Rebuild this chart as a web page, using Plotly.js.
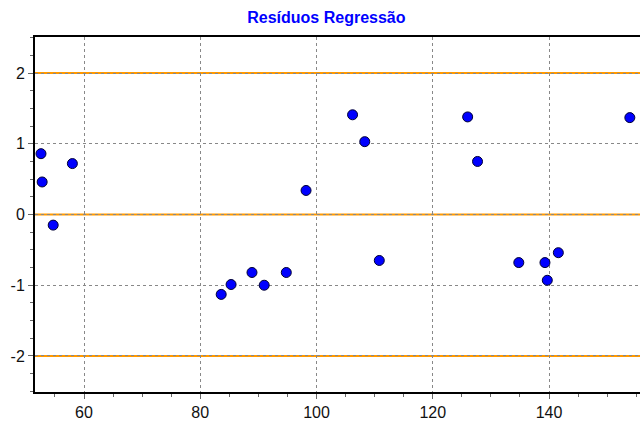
<!DOCTYPE html>
<html><head><meta charset="utf-8">
<script src="https://cdn.plot.ly/plotly-3.0.1.min.js"></script>
<style>html,body{margin:0;padding:0;background:#fff}#chart{width:640px;height:425px}</style>
</head><body><div id="chart"></div>
<script>
const xValues = [52.6, 52.8, 54.7, 58.0, 83.6, 85.3, 88.9, 91.0, 94.8, 98.2, 106.2, 108.3, 110.8, 126.0, 127.7, 134.8, 139.3, 139.7, 141.6, 153.9];
const residuals = [0.86, 0.46, -0.15, 0.72, -1.13, -0.99, -0.82, -1.00, -0.82, 0.34, 1.41, 1.03, -0.65, 1.38, 0.75, -0.68, -0.68, -0.93, -0.54, 1.37];
const refLevels = [2, 0, -2];
const xTicks = [60, 80, 100, 120, 140];
const yTicks = [-2, -1, 0, 1, 2];

const shapes = refLevels.map(v => ({
  type: 'line', xref: 'paper', x0: 0, x1: 1, yref: 'y', y0: v, y1: v,
  line: {color: '#FF9900', width: 2}, layer: 'between'
}));

const trace = {
  x: xValues, y: residuals, type: 'scatter', mode: 'markers',
  marker: {symbol: 'circle', size: 10, color: '#0000FF', line: {color: '#000033', width: 1}},
  hoverinfo: 'none', showlegend: false
};

const layout = {
  width: 640, height: 425,
  margin: {l: 35, r: 0, t: 37, b: 33},
  paper_bgcolor: '#fff', plot_bgcolor: '#fff',
  title: {text: '<b>Resíduos Regressão</b>', font: {family: 'Liberation Sans, Arial', size: 16, color: '#0000FF'}, x: 0.51, xanchor: 'center', y: 0.958, yanchor: 'middle'},
  font: {family: 'Liberation Sans, Arial', size: 16, color: '#111'},
  xaxis: {
    range: [51.57, 155.65], tickvals: xTicks, ticktext: xTicks.map(String),
    showgrid: true, gridcolor: '#888', griddash: 'dot', gridwidth: 1,
    zeroline: false, showline: true, linecolor: '#000', linewidth: 2, mirror: true,
    ticks: 'outside', ticklen: 5, tickcolor: '#666',
    minor: {dtick: 5, tick0: 0, ticks: 'outside', ticklen: 3, tickcolor: '#666', showgrid: false}
  },
  yaxis: {
    range: [-2.51, 2.51], tickvals: yTicks, ticktext: yTicks.map(String),
    showgrid: true, gridcolor: '#888', griddash: 'dot', gridwidth: 1,
    zeroline: false, showline: true, linecolor: '#000', linewidth: 2,
    ticks: 'outside', ticklen: 5, tickcolor: '#666',
    minor: {dtick: 0.25, tick0: 0, ticks: 'outside', ticklen: 3, tickcolor: '#666', showgrid: false}
  },
  shapes: shapes
};

Plotly.newPlot('chart', [trace], layout, {displayModeBar: false, staticPlot: true});
</script></body></html>
